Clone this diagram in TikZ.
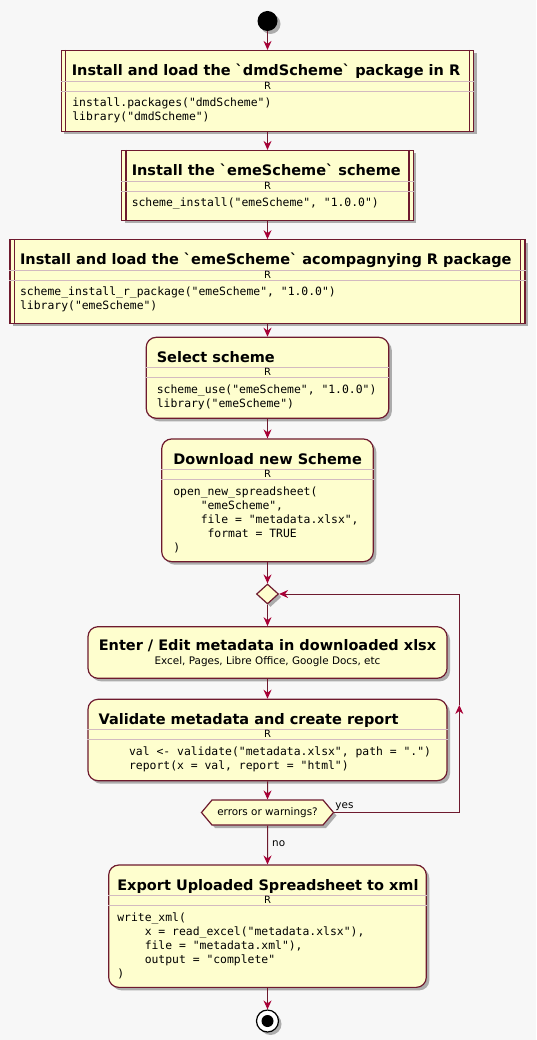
\documentclass[tikz,border=0pt]{standalone}
\usepackage{fontspec}
\newfontfamily\umlsans{DejaVu Sans}
\newfontfamily\umlcode{DejaVu Sans Mono}
\usetikzlibrary{positioning,arrows.meta,shadows,shapes.geometric,shapes.symbols}
\definecolor{umlfill}{HTML}{FEFECE}
\definecolor{umlred}{HTML}{A80036}
\definecolor{umlline}{HTML}{6E1A2E}
\definecolor{umlbg}{HTML}{F7F7F7}
\newcommand{\codestrut}{\rule{0pt}{9pt}}
\newcommand{\tab}{\phantom{0000}}

\tikzset{
  umlshadow/.style={drop shadow={shadow xshift=3pt,shadow yshift=-3pt,opacity=.3,fill=black}},
  actbox/.style={draw=umlline,line width=1.2pt,fill=umlfill,umlshadow,inner sep=0pt},
  roundbox/.style={actbox,rounded corners=10pt},
  boxline/.style={draw=umlline,line width=1.2pt},
  splitline/.style={draw=umlline!30,line width=.6pt},
  flow/.style={draw=umlline,line width=1pt,-{Stealth[length=9pt,width=8pt,inset=3pt,color=umlred]}},
  ttl/.style={font=\umlsans\bfseries\fontsize{14.5}{17}\selectfont,inner sep=0pt,text height=10.5pt,text depth=3pt},
  langtag/.style={font=\umlsans\fontsize{10}{12}\selectfont,inner sep=0pt},
  smalltxt/.style={font=\umlsans\fontsize{10.4}{12}\selectfont,inner sep=0pt},
  codetxt/.style={font=\umlcode\fontsize{11.4}{14}\selectfont,align=left,inner sep=0pt,anchor=north west},
}

\begin{document}
\begin{tikzpicture}[x=1pt,y=-1pt]
  \fill[umlbg] (0,0) rectangle (536,1040);
  \useasboundingbox (0,0) rectangle (536,1040);

  % start and end
  \node[circle,fill=black,minimum size=20pt,inner sep=0pt,umlshadow] (start) at (267.5,21) {};
  \node[circle,draw=black,line width=1.2pt,fill=white,minimum size=22pt,inner sep=0pt,umlshadow] (stop) at (267.5,1021) {};
  \fill[black] (stop.center) circle (6pt);

  % activities
  \node[actbox,minimum width=412.5pt,minimum height=81pt] (inst) at (267.5,91) {};
  \node[actbox,minimum width=291.7pt,minimum height=70pt] (emes) at (267.5,185.5) {};
  \node[actbox,minimum width=515pt,minimum height=83.7pt] (rpkg) at (267.5,281.6) {};
  \node[roundbox,minimum width=242.6pt,minimum height=81pt] (sel) at (267.5,377.8) {};
  \node[roundbox,minimum width=211.6pt,minimum height=122.7pt] (dl) at (267.5,500.3) {};
  \node[diamond,draw=umlline,line width=1.2pt,fill=umlfill,minimum width=22pt,minimum height=20pt,inner sep=0pt,umlshadow] (merge) at (267.5,594) {};
  \node[roundbox,minimum width=359pt,minimum height=51.6pt] (edit) at (267.5,652.5) {};
  \node[roundbox,minimum width=359pt,minimum height=81.4pt] (val) at (267.5,740) {};
  \node[signal,signal to=west and east,signal pointer angle=100,draw=umlline,line width=1.2pt,fill=umlfill,umlshadow,
        minimum width=132pt,minimum height=25pt,inner sep=0pt,smalltxt] (check) at (267.5,812.5) {errors or warnings?};
  \node[roundbox,minimum width=317.6pt,minimum height=122.3pt] (exp) at (267.5,926.2) {};

  % procedure bars
  \foreach \b in {inst,emes,rpkg} {
    \draw[boxline] ([xshift=5pt]\b.north west) -- ([xshift=5pt]\b.south west);
    \draw[boxline] ([xshift=-5pt]\b.north east) -- ([xshift=-5pt]\b.south east);
  }

  % R separators
  \foreach \b in {inst,emes,rpkg,sel,dl,val,exp} {
    \draw[splitline] ([yshift=-31pt]\b.north west) -- ([yshift=-31pt]\b.north east);
    \draw[splitline] ([yshift=-41pt]\b.north west) -- ([yshift=-41pt]\b.north east);
    \node[langtag] (\b-r) at ([yshift=-35.5pt]\b.north) {R};
  }

  % titles
  \node[ttl,anchor=west] (inst-t) at ([xshift=11pt,yshift=-22pt]inst.north west) {Install and load the `dmdScheme` package in R};
  \node[ttl,anchor=west] (emes-t) at ([xshift=10.5pt,yshift=-22pt]emes.north west) {Install the `emeScheme` scheme};
  \node[ttl,anchor=west] (rpkg-t) at ([xshift=10.5pt,yshift=-22pt]rpkg.north west) {Install and load the `emeScheme` acompagnying R package};
  \node[ttl,anchor=west] (sel-t) at ([xshift=11pt,yshift=-22pt]sel.north west) {Select scheme};
  \node[ttl,anchor=west] (dl-t) at ([xshift=12pt,yshift=-22pt]dl.north west) {Download new Scheme};
  \node[ttl] (edit-t) at ([yshift=-21pt]edit.north) {Enter / Edit metadata in downloaded xlsx};
  \node[smalltxt] (edit-s) at ([yshift=-35.5pt]edit.north) {Excel, Pages, Libre Office, Google Docs, etc};
  \node[ttl,anchor=west] (val-t) at ([xshift=11pt,yshift=-22pt]val.north west) {Validate metadata and create report};
  \node[ttl,anchor=west] (exp-t) at ([xshift=9pt,yshift=-22pt]exp.north west) {Export Uploaded Spreadsheet to xml};

  % code
  \node[codetxt] (inst-c) at ([xshift=11.5pt,yshift=-47.5pt]inst.north west)
    {\codestrut install.packages("dmdScheme")\\library("dmdScheme")};
  \node[codetxt] (emes-c) at ([xshift=10.5pt,yshift=-47.5pt]emes.north west)
    {\codestrut scheme\_install("emeScheme", "1.0.0")};
  \node[codetxt] (rpkg-c) at ([xshift=10.5pt,yshift=-47.5pt]rpkg.north west)
    {\codestrut scheme\_install\_r\_package("emeScheme", "1.0.0")\\library("emeScheme")};
  \node[codetxt] (sel-c) at ([xshift=11pt,yshift=-47.5pt]sel.north west)
    {\codestrut scheme\_use("emeScheme", "1.0.0")\\library("emeScheme")};
  \node[codetxt] (dl-c) at ([xshift=12pt,yshift=-47.5pt]dl.north west)
    {\codestrut open\_new\_spreadsheet(\\\tab"emeScheme",\\\tab file = "metadata.xlsx",\\\tab\phantom{0}format = TRUE\\)};
  \node[codetxt] (val-c) at ([xshift=41.5pt,yshift=-47.5pt]val.north west)
    {\codestrut val <- validate("metadata.xlsx", path = ".")\\report(x = val, report = "html")};
  \node[codetxt] (exp-c) at ([xshift=9pt,yshift=-47.5pt]exp.north west)
    {\codestrut write\_xml(\\\tab x = read\_excel("metadata.xlsx"),\\\tab file = "metadata.xml"),\\\tab output = "complete"\\)};

  % flow
  \draw[flow] (start) -- (inst);
  \draw[flow] (inst) -- (emes);
  \draw[flow] (emes) -- (rpkg);
  \draw[flow] (rpkg) -- (sel);
  \draw[flow] (sel) -- (dl);
  \draw[flow] (dl) -- (merge);
  \draw[flow] (merge) -- (edit);
  \draw[flow] (edit) -- (val);
  \draw[flow] (val) -- (check);
  \draw[flow] (check) -- (exp);
  \draw[flow] (exp) -- (stop);

  % loop back
  \coordinate (loopb) at (459.3,812.5);
  \coordinate (loopm) at (459.3,705);
  \coordinate (loopt) at (459.3,594);
  \draw[flow] (check.east) -- (loopb) -- (loopm);
  \draw[flow] (loopm) -- (loopt) -- (merge.east);
  \node[smalltxt,anchor=west] (yes) at ([xshift=1pt,yshift=6pt]check.east) {yes};
  \node[smalltxt,anchor=west] (no) at ([xshift=4.5pt,yshift=-18pt]check.south) {no};
\end{tikzpicture}
\end{document}
